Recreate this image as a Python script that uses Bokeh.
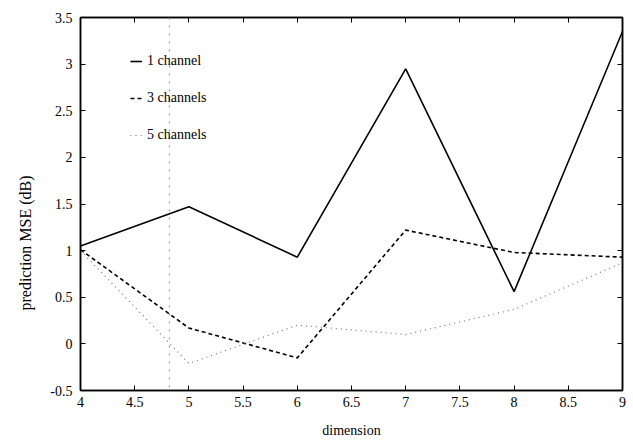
from bokeh.plotting import figure
from bokeh.models import FixedTicker, LinearAxis, Legend, LegendItem, Span, Range1d, Title
from bokeh.embed import file_html
from bokeh.resources import INLINE

dimension = [4, 5, 6, 7, 8, 9]
ch1 = [1.05, 1.47, 0.93, 2.95, 0.56, 3.35]
ch3 = [1.01, 0.17, -0.15, 1.22, 0.98, 0.93]
ch5 = [1.0, -0.21, 0.2, 0.1, 0.37, 0.87]

x_ticks = [4, 4.5, 5, 5.5, 6, 6.5, 7, 7.5, 8, 8.5, 9]
x_labels = ["4", "4.5", "5", "5.5", "6", "6.5", "7", "7.5", "8", "8.5", "9"]
y_ticks = [-0.5, 0, 0.5, 1, 1.5, 2, 2.5, 3, 3.5]
y_labels = ["-0.5", "0", "0.5", "1", "1.5", "2", "2.5", "3", "3.5"]

FONT = "Liberation Serif"

p = figure(width=633, height=440, output_backend="svg", toolbar_location=None,
           x_range=Range1d(4, 9), y_range=Range1d(-0.5, 3.5),
           min_border_left=80, min_border_right=11, min_border_top=17, min_border_bottom=49,
           x_axis_label="dimension")
p.background_fill_color = "white"
p.border_fill_color = "white"
p.outline_line_color = "black"
p.outline_line_width = 1.5
p.grid.visible = False

for ax, ticks, labels in ((p.xaxis[0], x_ticks, x_labels), (p.yaxis[0], y_ticks, y_labels)):
    ax.ticker = FixedTicker(ticks=ticks)
    ax.major_label_overrides = {t: l for t, l in zip(ticks, labels)}
    ax.major_tick_in = 5
    ax.major_tick_out = 0
    ax.minor_tick_line_color = None
    ax.axis_line_width = 1.5
    ax.major_label_text_font = FONT
    ax.major_label_text_font_size = "14px"
    ax.major_label_text_color = "black"
    ax.axis_label_text_font = FONT
    ax.axis_label_text_font_size = "14px"
    ax.axis_label_text_font_style = "normal"
    ax.axis_label_text_color = "black"

p.xaxis[0].axis_label_standoff = 13
p.xaxis[0].major_label_standoff = 6
p.yaxis[0].major_label_standoff = 8

ylab = Title(text="prediction MSE (dB)", align="left", offset=80,
             text_font=FONT, text_font_size="16px", text_font_style="normal",
             text_color="black", standoff=27)
p.add_layout(ylab, "left")

top = LinearAxis(ticker=FixedTicker(ticks=x_ticks),
                 major_label_overrides={t: "" for t in x_ticks},
                 major_tick_in=5, major_tick_out=0, minor_tick_line_color=None, axis_line_width=1.5)
right = LinearAxis(ticker=FixedTicker(ticks=y_ticks),
                   major_label_overrides={t: "" for t in y_ticks},
                   major_tick_in=5, major_tick_out=0, minor_tick_line_color=None, axis_line_width=1.5)
p.add_layout(top, "above")
p.add_layout(right, "right")

# faint scan line
p.add_layout(Span(location=4.82, dimension="height", line_color="#888888",
                  line_dash="2 6", line_width=1))

r1 = p.line(dimension, ch1, line_color="black", line_width=1.6)
r3 = p.line(dimension, ch3, line_color="black", line_width=1.6, line_dash="4 3")
r5 = p.line(dimension, ch5, line_color="#777777", line_width=1.2, line_dash="1 4")

legend = Legend(items=[LegendItem(label="1 channel", renderers=[r1]),
                       LegendItem(label="3 channels", renderers=[r3]),
                       LegendItem(label="5 channels", renderers=[r5])],
                location=(50, 245), glyph_width=12, spacing=17,
                label_text_font=FONT, label_text_font_size="14px", label_text_color="black",
                border_line_color=None, background_fill_alpha=0)
p.add_layout(legend, "center")

open("out.html", "w").write(file_html(p, INLINE))
